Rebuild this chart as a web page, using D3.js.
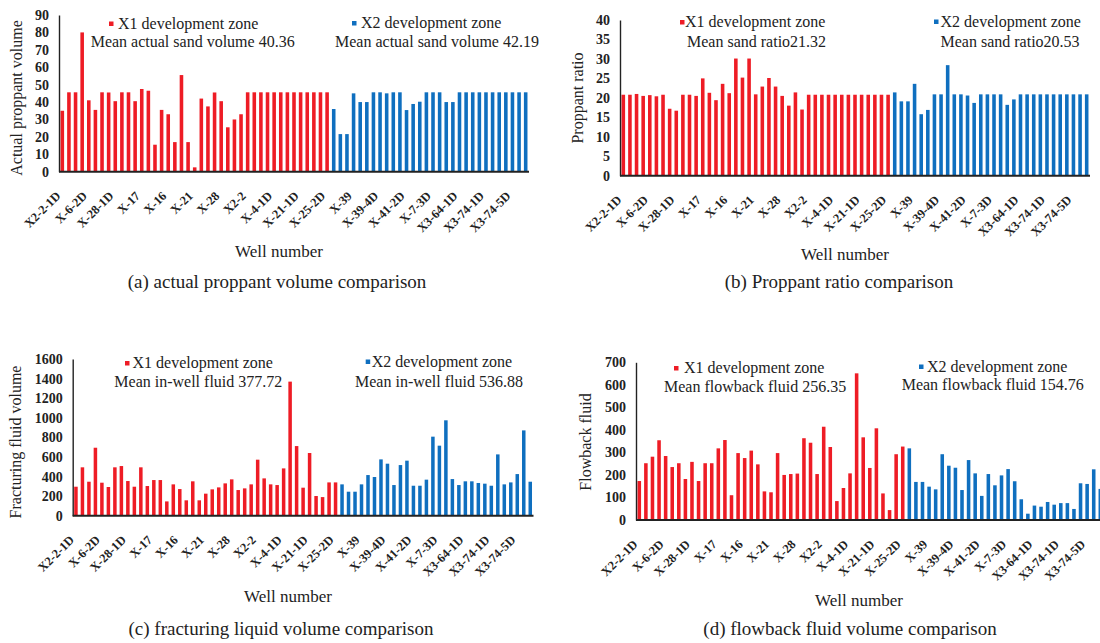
<!DOCTYPE html>
<html>
<head>
<meta charset="utf-8">
<script src="https://cdn.jsdelivr.net/npm/d3@7"></script>
<style>
  html, body { margin: 0; padding: 0; background: #fff; }
  svg { display: block; font-family: "Liberation Serif", "Times New Roman", serif; }
</style>
</head>
<body>
<svg id="chart" width="1100" height="643"></svg>
<script>
// Well labels shown on the category axis (every fourth well)
const wellLabels = ["X2-2-1D", "X-6-2D", "X-28-1D", "X-17", "X-16", "X-21", "X-28", "X2-2",
  "X-4-1D", "X-21-1D", "X-25-2D", "X-39", "X-39-4D", "X-41-2D", "X-7-3D", "X3-64-1D",
  "X3-74-1D", "X3-74-5D"];

// (a) actual proppant volume
const sandX1 = [35, 45.6, 45.6, 80, 41, 35.5, 45.6, 45.5, 40.5, 45.6, 45.6, 40.5, 47.5, 46.5, 15.5,
  35.5, 33, 17, 55.5, 17, 2.5, 42, 37.5, 45.5, 40.5, 25.5, 30, 33,
  45.6, 45.6, 45.6, 45.6, 45.6, 45.6, 45.6, 45.6, 45.6, 45.6, 45.6, 45.6, 45.6];
const sandX2 = [36, 21.6, 21.6, 45, 40, 40, 45.6, 45.6, 45, 45.6, 45.6, 35.4, 38.9, 40.2, 45.6,
  45.6, 45.6, 40, 40, 45.6, 45.6, 45.6, 45.6, 45.6, 45.6, 45.6, 45.6, 45.6, 45.6, 45.6];

// (b) proppant ratio
const ratioX1 = [20.8, 20.8, 21, 20.5, 20.7, 20.4, 20.8, 17.2, 16.7, 20.8, 20.8, 20.5, 25, 21.3,
  19.4, 23.6, 21.2, 30.1, 25.2, 30.1, 20.9, 22.9, 25.1, 22.9, 20.5, 18, 21.4, 17,
  20.8, 20.8, 20.8, 20.8, 20.8, 20.8, 20.8, 20.8, 20.8, 20.8, 20.8, 20.8, 20.8];
const ratioX2 = [21.4, 19.1, 19.1, 23.6, 15.8, 16.9, 20.9, 20.9, 28.4, 20.9, 20.9, 20.6, 18.7,
  20.9, 20.9, 20.9, 20.9, 18.2, 19.6, 20.9, 20.9, 20.9, 20.9, 20.9, 20.9, 20.9, 20.9, 20.9, 20.9, 20.9];

// (c) fracturing fluid volume
const fluidX1 = [296, 494, 347, 694, 337, 293, 494, 507, 354, 296, 494, 303, 364, 364, 146, 320,
  272, 157, 351, 157, 225, 269, 289, 330, 371, 262, 279, 320, 572, 381, 320, 313, 483, 1369,
  711, 286, 640, 201, 190, 340, 340];
const fluidX2 = [320, 245, 245, 320, 415, 395, 575, 531, 313, 517, 562, 306, 306, 368, 807, 715,
  974, 374, 313, 351, 351, 334, 327, 306, 626, 320, 340, 425, 871, 347];

// (d) flowback fluid volume
const flowX1 = [173, 252, 281, 354, 284, 235, 252, 182, 258, 173, 252, 252, 318, 355, 110, 297,
  275, 308, 247, 127, 123, 297, 200, 204, 206, 363, 343, 204, 414, 324, 84, 142, 207, 651,
  367, 231, 407, 118, 44, 292, 326];
const flowX2 = [318, 169, 169, 148, 136, 292, 241, 232, 133, 266, 207, 107, 204, 154, 198, 226,
  172, 92, 28, 64, 59, 80, 68, 75, 75, 49, 163, 160, 225, 138];

const yMax = [90, 40, 1600, 700];
const yStep = [10, 5, 200, 100];
const yTitles = ["Actual proppant volume", "Proppant ratio", "Fracturing fluid volume", "Flowback fluid"];
const meanX1 = ["Mean actual sand volume 40.36", "Mean sand ratio21.32", "Mean in-well fluid 377.72", "Mean flowback fluid 256.35"];
const meanX2 = ["Mean actual sand volume 42.19", "Mean sand ratio20.53", "Mean in-well fluid 536.88", "Mean flowback fluid 154.76"];
const captions = ["(a) actual proppant volume comparison", "(b) Proppant ratio comparison",
  "(c) fracturing liquid volume comparison", "(d) flowback fluid volume comparison"];
const seriesX1 = [sandX1, ratioX1, fluidX1, flowX1];
const seriesX2 = [sandX2, ratioX2, fluidX2, flowX2];

const RED = "#ee1c25";
const BLUE = "#0f6fbf";

// Panel geometry
const layout = [
  { x0: 59, x1: 529, top: 15, bot: 171.7, ytx: 22, yty: 98,
    l1: [109, 118, 28.5], m1: [90.7, 47], l2: [352, 361, 28], m2: [335, 47],
    wn: [279, 256.5], cap: [277, 288] },
  { x0: 620, x1: 1090, top: 20, bot: 175.7, ytx: 583, yty: 98,
    l1: [680, 685, 27], m1: [687, 47], l2: [934, 940.5, 26.5], m2: [940.5, 47],
    wn: [845, 260], cap: [839, 288] },
  { x0: 72.7, x1: 533.5, top: 359, bot: 515.7, ytx: 21, yty: 442,
    l1: [125, 132.5, 368], m1: [114.3, 387], l2: [365.7, 371.7, 366.5], m2: [355, 387],
    wn: [288, 602], cap: [281, 635] },
  { x0: 636, x1: 1103.6, top: 362.3, bot: 520, ytx: 591, yty: 442,
    l1: [674, 684, 373], m1: [664, 391.5], l2: [919, 927, 371.5], m2: [901.7, 390],
    wn: [859, 606], cap: [850, 635] }
];

const svg = d3.select("#chart");

layout.forEach((L, p) => {
  const g = svg.append("g");
  const d1 = seriesX1[p], d2 = seriesX2[p];
  const n = d1.length + d2.length;
  const rows = d1.map((v, i) => ({ i, v, c: RED })).concat(d2.map((v, i) => ({ i: d1.length + i, v, c: BLUE })));

  const x = d3.scaleBand().domain(d3.range(n)).range([L.x0, L.x1]).paddingInner(0.46).paddingOuter(0.23);
  const y = d3.scaleLinear().domain([0, yMax[p]]).range([L.bot, L.top]);

  // bars
  g.selectAll("rect.bar").data(rows).join("rect")
    .attr("class", "bar")
    .attr("x", d => x(d.i))
    .attr("width", x.bandwidth())
    .attr("y", d => y(d.v))
    .attr("height", d => L.bot - y(d.v))
    .attr("fill", d => d.c);

  // y axis
  const yAxis = d3.axisLeft(y).tickValues(d3.range(0, yMax[p] + 1e-9, yStep[p]))
    .tickFormat(d3.format("d")).tickSize(0).tickPadding(10);
  const ya = g.append("g").attr("transform", `translate(${L.x0},0)`).call(yAxis);
  ya.select(".domain").attr("stroke", "#222").attr("stroke-width", 1.4);
  ya.selectAll("text").attr("font-family", "Liberation Serif").attr("font-size", 14)
    .attr("font-weight", "bold").attr("fill", "#222");

  // x axis, labels every fourth well
  const xAxis = d3.axisBottom(x).tickValues(d3.range(0, n, 4)).tickSize(0)
    .tickFormat(i => wellLabels[i / 4]);
  const xa = g.append("g").attr("transform", `translate(0,${L.bot})`).call(xAxis);
  xa.select(".domain").attr("stroke", "#222").attr("stroke-width", 2).attr("d", `M${L.x0},0H${L.x1}`);
  xa.selectAll("text")
    .attr("font-family", "Liberation Serif").attr("font-size", 12.5).attr("font-weight", "bold")
    .attr("fill", "#222").attr("text-anchor", "end")
    .attr("y", 0).attr("dy", 0)
    .attr("transform", "translate(-1,25) rotate(-45)");

  // y title
  g.append("text").attr("transform", `translate(${L.ytx},${L.yty}) rotate(-90)`)
    .attr("text-anchor", "middle").attr("font-size", 16).attr("fill", "#222").text(yTitles[p]);

  // legends
  const legend = (pos, mpos, color, name, meanText) => {
    g.append("rect").attr("x", pos[0]).attr("y", pos[2] - 7).attr("width", 4.5).attr("height", 4.5).attr("fill", color);
    g.append("text").attr("x", pos[1]).attr("y", pos[2]).attr("font-size", 16).attr("fill", "#222").text(name);
    g.append("text").attr("x", mpos[0]).attr("y", mpos[1]).attr("font-size", 16).attr("fill", "#222").text(meanText);
  };
  legend(L.l1, L.m1, RED, "X1 development zone", meanX1[p]);
  legend(L.l2, L.m2, BLUE, "X2 development zone", meanX2[p]);

  g.append("text").attr("x", L.wn[0]).attr("y", L.wn[1]).attr("text-anchor", "middle")
    .attr("font-size", 17).attr("fill", "#222").text("Well number");
  g.append("text").attr("x", L.cap[0]).attr("y", L.cap[1]).attr("text-anchor", "middle")
    .attr("font-size", 19).attr("fill", "#222").text(captions[p]);
});
</script>
</body>
</html>
